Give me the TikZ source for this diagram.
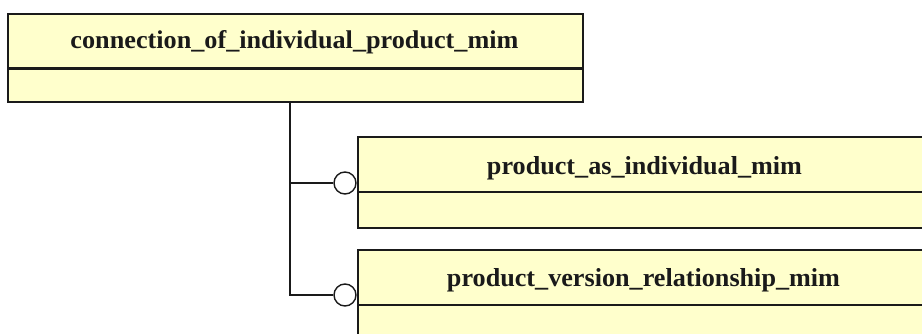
\documentclass[tikz,border=0pt]{standalone}
\usepackage{fontspec}
\usepackage{graphicx}
\setmainfont{Liberation Serif}
\definecolor{boxfill}{HTML}{FFFFCC}
\definecolor{ink}{HTML}{1A1A1A}
\tikzset{
  cls/.style={draw=ink, fill=boxfill, line width=1.6pt, rectangle, inner sep=0pt, anchor=north west},
  lbl/.style={anchor=base, inner sep=0pt, text=ink},
  conn/.style={draw=ink, line width=2pt},
  ring/.style={draw=ink, fill=white, line width=1.4pt, circle, inner sep=0pt, minimum size=22pt},
}
\newcommand{\lab}[2]{\resizebox{#1pt}{18pt}{\bfseries #2}}
\begin{document}
\begin{tikzpicture}[x=1pt,y=-1pt]
\useasboundingbox (0,0) rectangle (922,334);
% top class
\node[cls, minimum width=575pt, minimum height=88pt] (top) at (7,13) {};
\draw[draw=ink, line width=3pt] (7,69) -- (582,69);
\node[lbl] (toplbl) at (294.5,49) {\lab{448}{connection\_of\_individual\_product\_mim}};
% trunk
\coordinate (trunk) at (290,101);
% rings
\node[ring] (r1) at (345,183) {};
\node[ring] (r2) at (345,295) {};
\draw[conn] (trunk) |- (r2.west);
\draw[conn] (trunk |- r1.west) -- (r1.west);
% class 2
\node[cls, minimum width=580pt, minimum height=91pt] (b2) at (357,136) {};
\draw[draw=ink, line width=1.6pt] (357,192) -- (937,192);
\node[lbl] (b2lbl) at (644.5,175) {\lab{315}{product\_as\_individual\_mim}};
% class 3
\node[cls, minimum width=580pt, minimum height=120pt] (b3) at (357,249) {};
\draw[draw=ink, line width=1.6pt] (357,305) -- (937,305);
\node[lbl] (b3lbl) at (643.5,287) {\lab{393}{product\_version\_relationship\_mim}};
\end{tikzpicture}
\end{document}
